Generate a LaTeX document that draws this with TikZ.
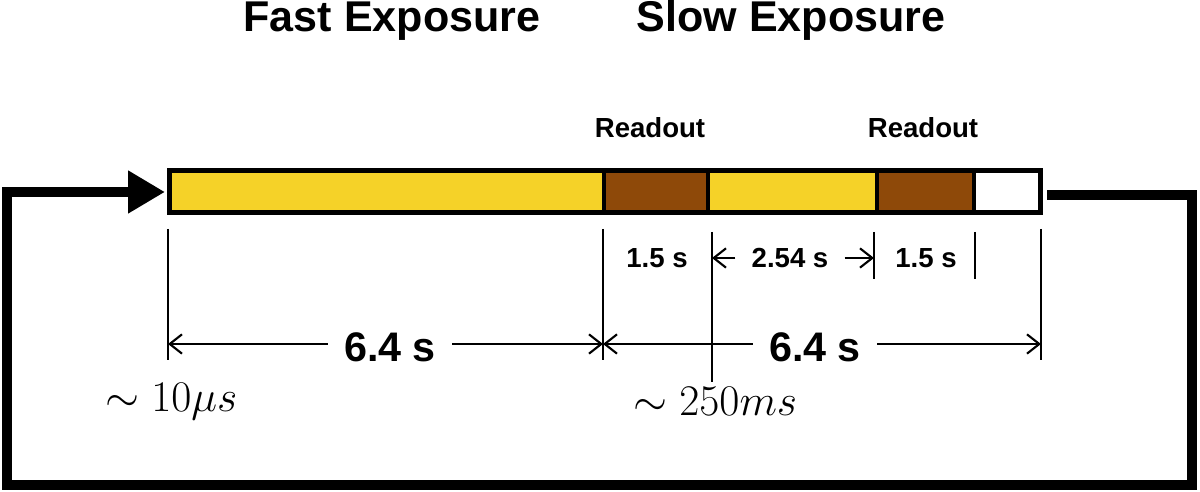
\documentclass[tikz,border=0pt]{standalone}
\usepackage{fontspec}
\setmainfont{Liberation Sans}
\usetikzlibrary{arrows.meta}
\definecolor{expyellow}{RGB}{245,210,40}
\definecolor{readbrown}{RGB}{142,73,9}
\tikzset{
  seg/.style={draw=black,line width=2.8pt},
  loopline/.style={line width=5.6pt,line join=miter},
  tick/.style={line width=1.2pt},
  dim/.style={line width=1.2pt,-{Straight Barb[length=7pt,width=11pt,line width=1.2pt]}},
  title/.style={font=\fontsize{24.5}{28}\selectfont\bfseries},
  big/.style={font=\fontsize{23.5}{28}\selectfont\bfseries},
  small/.style={font=\fontsize{15.7}{18}\selectfont\bfseries},
  mathlbl/.style={font=\fontsize{23.6}{28}\selectfont}
}
\begin{document}
\begin{tikzpicture}[x=0.02cm,y=-0.02cm]
\useasboundingbox (0,0) rectangle (1200,492);
% bar segments
\fill[expyellow] (169.5,170.5) rectangle (604,212.5);
\fill[readbrown] (604,170.5) rectangle (708,212.5);
\fill[expyellow] (708,170.5) rectangle (877,212.5);
\fill[readbrown] (877,170.5) rectangle (974,212.5);
\fill[white] (974,170.5) rectangle (1040.5,212.5);
\draw[seg] (169.5,170.5) rectangle (1040.5,212.5);
\draw[seg] (604,170.5) -- (604,212.5);
\draw[seg] (708,170.5) -- (708,212.5);
\draw[seg] (877,170.5) -- (877,212.5);
\draw[seg] (974,170.5) -- (974,212.5);
\coordinate (barL) at (165,192);
\coordinate (barR) at (1047,195);
% feedback loop
\draw[loopline,-{Triangle[length=21pt,width=23pt]}] (barR) -- (1192,195) -- (1192,485) -- (7,485) -- (7,192) -- (barL);
% titles
\node[title,anchor=base] (fast) at (392,32) {Fast Exposure};
\node[title,anchor=base] (slow) at (791,32) {Slow Exposure};
\node[small] (ro1) at (650,128) {Readout};
\node[small] (ro2) at (923,128) {Readout};
% ticks
\draw[tick] (168,229) -- (168,360);
\draw[tick] (603,229) -- (603,360);
\draw[tick] (712,232) -- (712,382);
\draw[tick] (874,232) -- (874,279);
\draw[tick] (975,232) -- (975,279);
\draw[tick] (1041,229) -- (1041,360);
\coordinate (t0) at (168,344);
\coordinate (t1) at (603,344);
\coordinate (t5) at (1041,344);
\coordinate (u2) at (712,258);
\coordinate (u3) at (874,258);
% big dimensions
\node[big] (d1) at (390,347) {6.4 s};
\node[big] (d2) at (815,347) {6.4 s};
\draw[dim] (d1.west) ++(-10,-3) coordinate (d1a) -- (t0);
\draw[dim] (d1.east) ++(10,-3) coordinate (d1b) -- (t1);
\draw[dim] (d2.west) ++(-10,-3) coordinate (d2a) -- (t1);
\draw[dim] (d2.east) ++(10,-3) coordinate (d2b) -- (t5);
% small dimensions
\node[small] (s1) at (657,258) {1.5 s};
\node[small] (s2) at (790,258) {2.54 s};
\node[small] (s3) at (926,258) {1.5 s};
\draw[dim] (s2.west) ++(-10,0) coordinate (s2a) -- (u2);
\draw[dim] (s2.east) ++(10,0) coordinate (s2b) -- (u3);
% math labels
\node[mathlbl,anchor=base west] (m1) at (99,412) {$\sim 10\mu s$};
\node[mathlbl,anchor=base west] (m2) at (627,416) {$\sim 250ms$};
\end{tikzpicture}
\end{document}
